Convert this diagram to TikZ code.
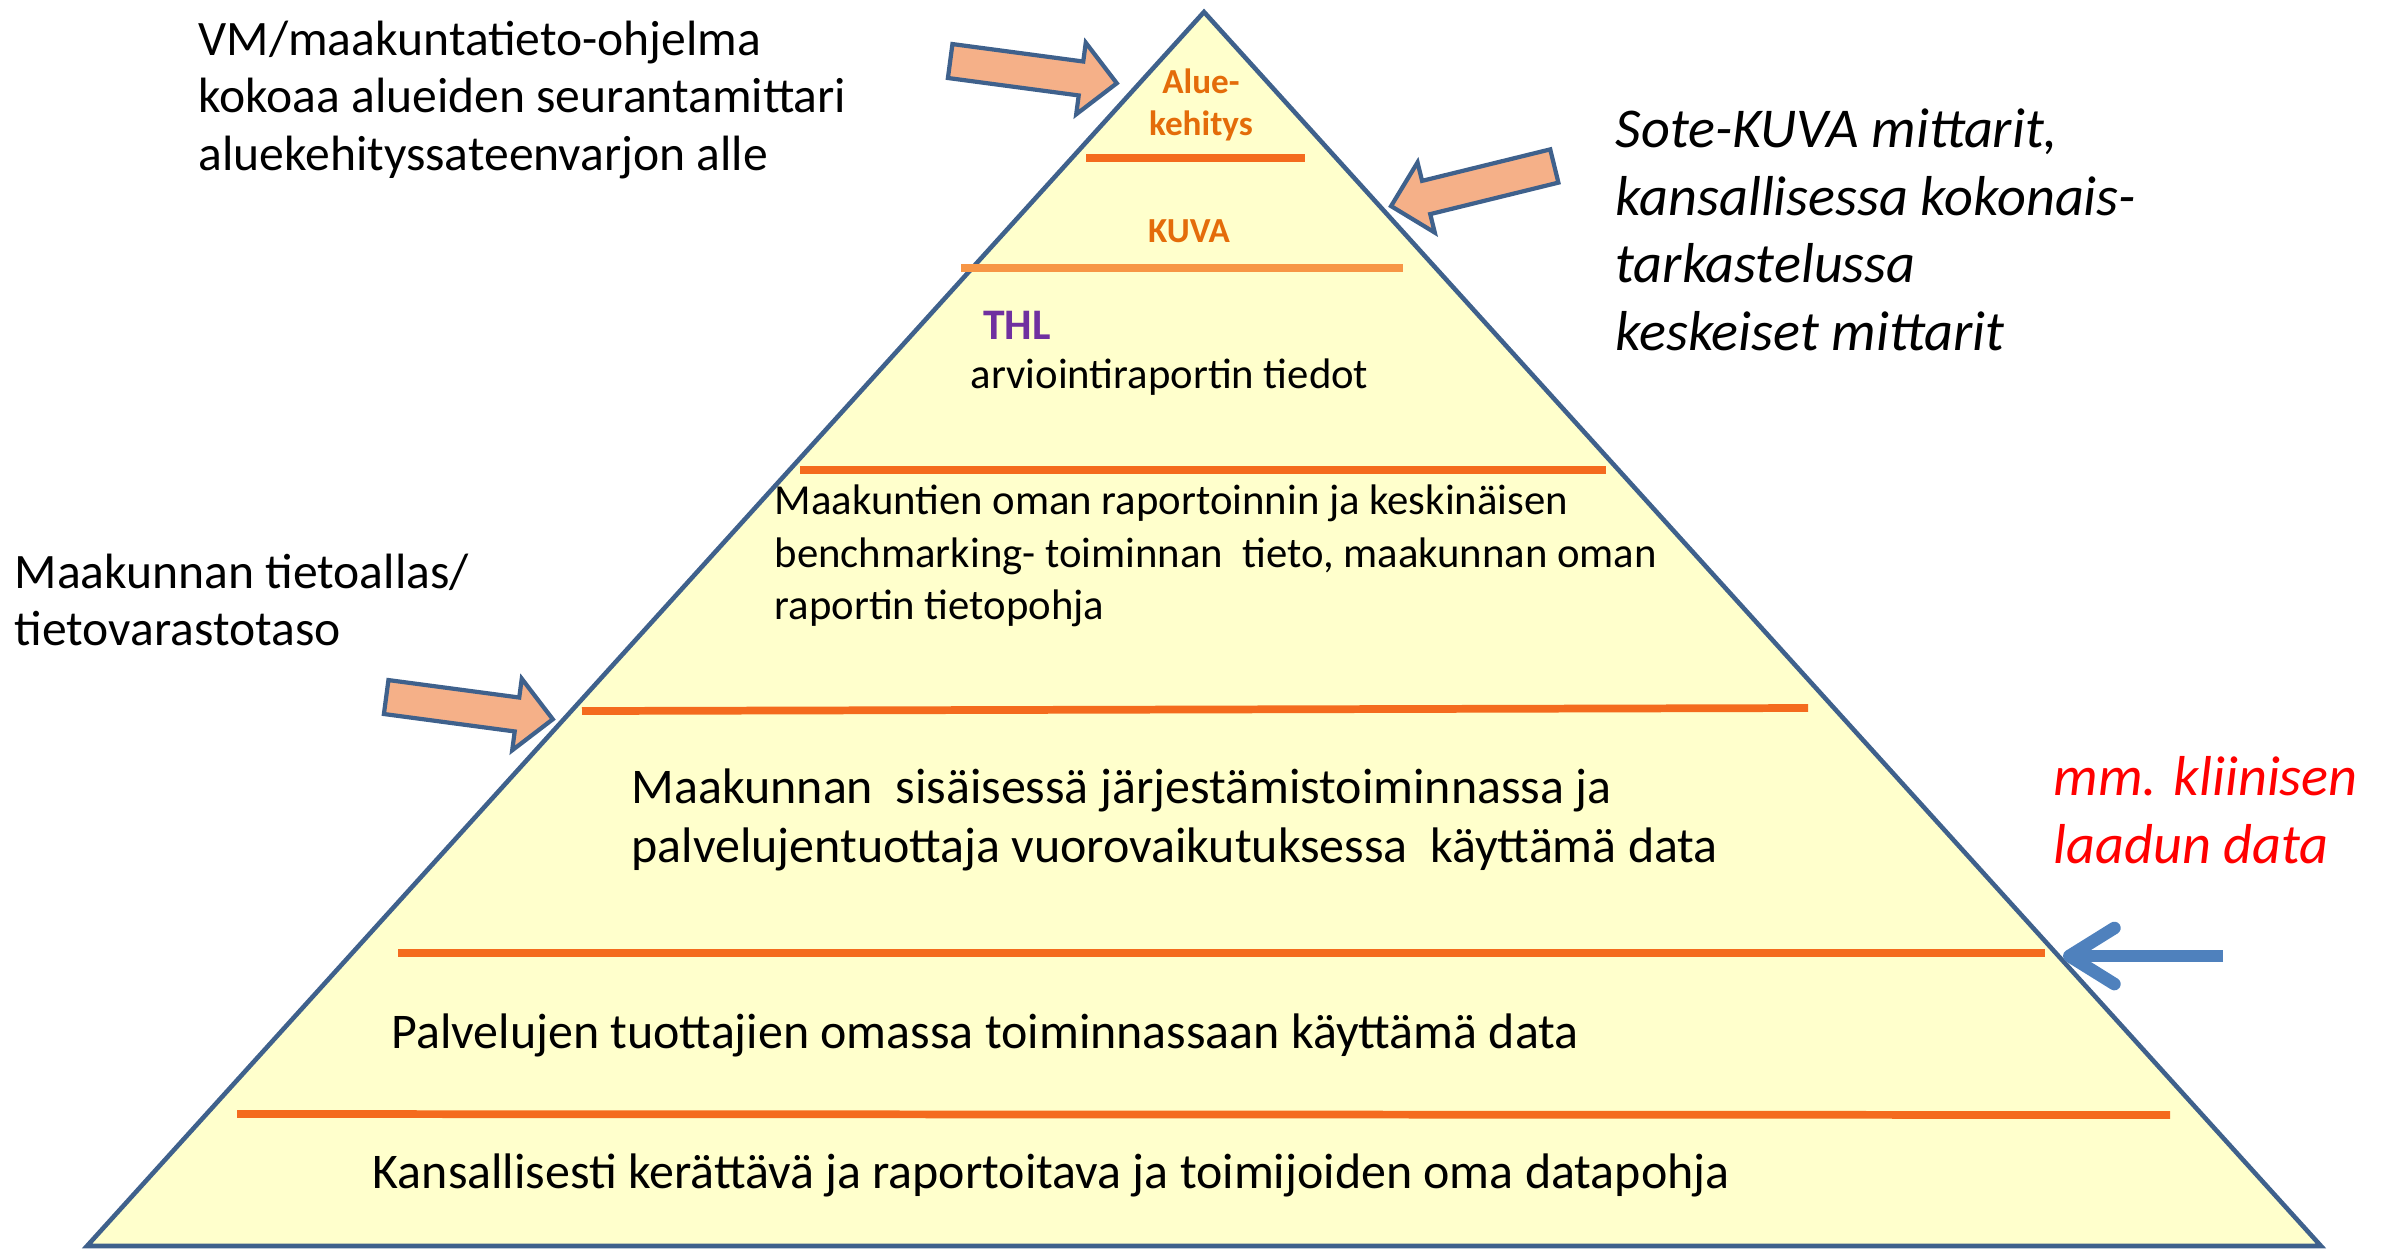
\documentclass[tikz,border=0pt]{standalone}
\usepackage{fontspec}
\setmainfont{Carlito}
\usetikzlibrary{shapes.arrows,arrows.meta,positioning}
\definecolor{colorEDGE}{HTML}{3F618C}
\definecolor{colorFILL}{HTML}{FFFFCC}
\definecolor{colorLVL}{HTML}{F46B1E}
\definecolor{colorLVLL}{HTML}{F79646}
\definecolor{colorSALMON}{HTML}{F5B088}
\definecolor{colorTAG}{HTML}{E46C0A}
\definecolor{colorTHL}{HTML}{7030A0}
\definecolor{colorQ}{HTML}{4F81BD}
\tikzset{
   pyr/.style={draw=colorEDGE,fill=colorFILL,line width=1.3pt,line join=miter},
   lvl/.style={color=colorLVL,line width=2.2pt},
   lvll/.style={color=colorLVLL,line width=2.2pt},
   ptr/.style={single arrow,draw=colorEDGE,fill=colorSALMON,line width=1.2pt,inner xsep=0pt,inner ysep=0.15cm,minimum height=1.68cm,single arrow head extend=0.19cm},
   qarr/.style={-{Straight Barb[length=0.45cm,width=0.56cm,round]},color=colorQ,line width=3.6pt},
   txt/.style={anchor=west,inner sep=0pt,align=left},
   bigtxt/.style={txt,font=\fontsize{14.1}{16.4}\selectfont},
   midtxt/.style={txt,font=\fontsize{14.2}{16.8}\selectfont},
   smalltxt/.style={txt,font=\fontsize{12.15}{14.9}\selectfont},
   itxt/.style={txt,font=\fontsize{16}{19.2}\selectfont\itshape},
   tag/.style={inner sep=0pt,align=center,text=colorTAG,font=\fontsize{10}{12}\selectfont\bfseries},
}
\begin{document}
\begin{tikzpicture}[x=0.01cm,y=-0.01cm]
      \useasboundingbox (0,0) rectangle (2384,1250);
      \draw[pyr] (1204,12) -- (2321,1246) -- (87,1246) -- cycle;
      \draw[lvl] (1086,158) -- (1305,158);
      \draw[lvll] (961,268) -- (1403,268);
      \draw[lvl] (800,470) -- (1606,470);
      \draw[lvl] (582,711) -- (1808,708);
      \draw[lvl] (398,953) -- (2045,953);
      \draw[lvl] (237,1114) -- (2170,1115);
      \node[tag] (lAlue) at (1201,105) {Alue-\\kehitys};
      \node[tag] (lKuva) at (1189,231) {KUVA};
      \node[tag,text=colorTHL,font=\fontsize{12.4}{14.9}\selectfont\bfseries] (lThl) at (1017,325) {THL};
      \node[smalltxt] (lArv) at (970,377) {arviointiraportin tiedot};
      \node[smalltxt] (lOma) at (774,556) {Maakuntien oman raportoinnin ja keskinäisen\\benchmarking- toiminnan~ tieto, maakunnan oman\\raportin tietopohja};
      \node[midtxt] (lSis) at (631,820) {Maakunnan~ sisäisessä järjestämistoiminnassa ja\\palvelujentuottaja vuorovaikutuksessa~ käyttämä data};
      \node[midtxt] (lPal) at (391,1035) {Palvelujen tuottajien omassa toiminnassaan käyttämä data};
      \node[midtxt] (lKan) at (372,1175) {Kansallisesti kerättävä ja raportoitava ja toimijoiden oma datapohja};
      \node[bigtxt] (nVm) at (198,100) {VM/maakuntatieto-ohjelma\\kokoaa alueiden seurantamittari\\aluekehityssateenvarjon alle};
      \node[bigtxt] (nAllas) at (14,600) {Maakunnan tietoallas/\\tietovarastotaso};
      \node[itxt] (nSote) at (1615,230) {Sote-KUVA mittarit,\\kansallisessa kokonais-\\tarkastelussa\\keskeiset mittarit};
      \node[itxt,text=red] (nMm) at (2053,810) {mm. kliinisen\\laadun data};
      \node[ptr,rotate=-7.6] (aVm) at (1025,71) {};
      \node[ptr,rotate=193.8] (aSote) at (1481,184) {};
      \node[ptr,rotate=-7.6] (aAllas) at (461,707) {};
      \coordinate (qs) at (2223,956);
      \coordinate (qe) at (2063,956);
      \draw[qarr] (qs) -- (qe);
\end{tikzpicture}
\end{document}
